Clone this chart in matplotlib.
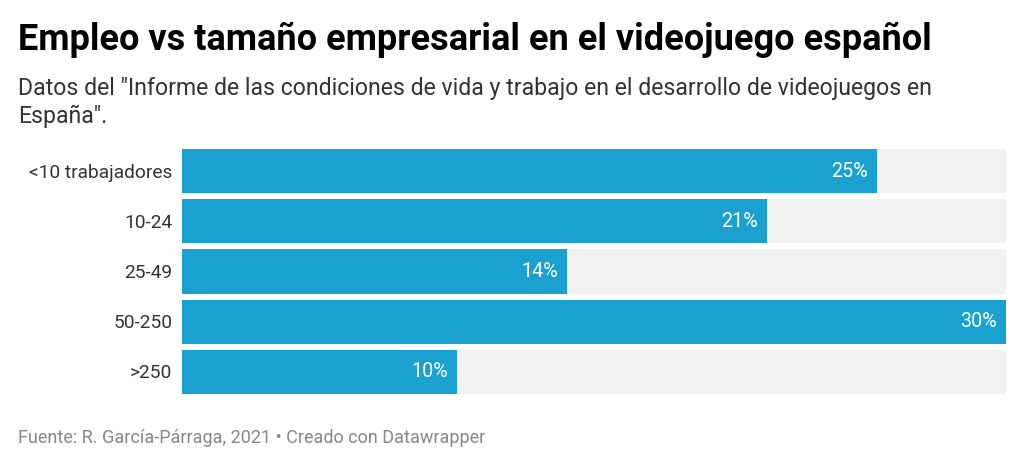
import matplotlib.pyplot as plt

plt.rcParams['font.family'] = ['Roboto', 'DejaVu Sans']

# Datos
categorias = ['<10 trabajadores', '10-24', '25-49', '50-250', '>250']
valores = [25.3, 21.3, 14.0, 30.0, 10.0]
etiquetas = ['25%', '21%', '14%', '30%', '10%']
maximo = 30.0

azul = '#1aa1d0'
gris = '#f2f2f2'

fig = plt.figure(figsize=(10.24, 4.67), dpi=100)
W, H = 1024, 467

# area de barras en pixeles: x 182-1006, y 147-396
ax = fig.add_axes([182 / W, 1 - 396.5 / H, (1006 - 182) / W, (396.5 - 146.5) / H])

y = list(range(len(categorias)))
ax.barh(y, [maximo] * len(y), height=0.88, color=gris, zorder=1)
ax.barh(y, valores, height=0.88, color=azul, zorder=2)

for yi, v, t in zip(y, valores, etiquetas):
    ax.text(v - 0.32, yi, t, ha='right', va='center', color='white',
            fontsize=14.2, zorder=3)

ax.set_xlim(0, maximo)
ax.set_ylim(len(y) - 0.5, -0.5)
ax.set_yticks(y)
ax.set_yticklabels(categorias, fontsize=13.8, color='#333333')
ax.tick_params(axis='y', length=0, pad=7)
ax.set_xticks([])
for s in ax.spines.values():
    s.set_visible(False)

# Titulos
fig.text(18 / W, 1 - 40 / H, 'Empleo vs tamaño empresarial en el videojuego español',
         fontsize=26, fontweight='bold', va='center', ha='left', color='#000000')
fig.text(18 / W, 1 - 88 / H,
         'Datos del "Informe de las condiciones de vida y trabajo en el desarrollo de videojuegos en',
         fontsize=16.6, va='center', ha='left', color='#333333')
fig.text(18 / W, 1 - 116 / H, 'España".',
         fontsize=16.6, va='center', ha='left', color='#333333')

# Pie
fig.text(18 / W, 1 - 438 / H, 'Fuente: R. García-Párraga, 2021 • Creado con Datawrapper',
         fontsize=13, va='center', ha='left', color='#888888')

fig.savefig('out.png', dpi=100, facecolor='white')
